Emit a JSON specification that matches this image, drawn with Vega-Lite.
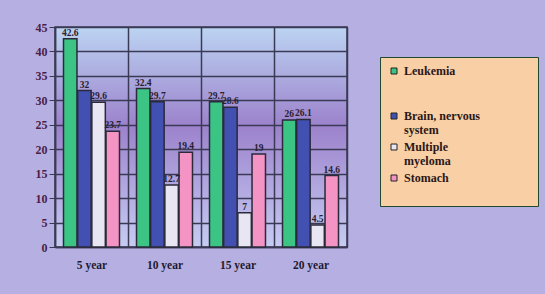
{
  "$schema": "https://vega.github.io/schema/vega-lite/v6.json",
  "width": 292,
  "height": 220,
  "autosize": {"type": "none"},
  "padding": {"left": 55, "top": 27, "right": 198, "bottom": 47},
  "background": "#b6b0e2",
  "config": {
    "view": {
      "stroke": "#3a3a55",
      "strokeWidth": 1.5,
      "fill": {
        "gradient": "linear",
        "x1": 0, "y1": 0, "x2": 0, "y2": 1,
        "stops": [
          {"offset": 0, "color": "#bcd4f2"},
          {"offset": 0.45, "color": "#9c82cc"},
          {"offset": 1, "color": "#c6ccf2"}
        ]
      }
    },
    "font": "Liberation Serif"
  },
  "data": {
    "values": [
      {"period": "5 year", "cancer": "Leukemia", "value": 42.6, "label": "42.6"},
      {"period": "5 year", "cancer": "Brain, nervous system", "value": 32, "label": "32"},
      {"period": "5 year", "cancer": "Multiple myeloma", "value": 29.6, "label": "29.6"},
      {"period": "5 year", "cancer": "Stomach", "value": 23.7, "label": "23.7"},
      {"period": "10 year", "cancer": "Leukemia", "value": 32.4, "label": "32.4"},
      {"period": "10 year", "cancer": "Brain, nervous system", "value": 29.7, "label": "29.7"},
      {"period": "10 year", "cancer": "Multiple myeloma", "value": 12.7, "label": "12.7"},
      {"period": "10 year", "cancer": "Stomach", "value": 19.4, "label": "19.4"},
      {"period": "15 year", "cancer": "Leukemia", "value": 29.7, "label": "29.7"},
      {"period": "15 year", "cancer": "Brain, nervous system", "value": 28.6, "label": "28.6"},
      {"period": "15 year", "cancer": "Multiple myeloma", "value": 7, "label": "7"},
      {"period": "15 year", "cancer": "Stomach", "value": 19, "label": "19"},
      {"period": "20 year", "cancer": "Leukemia", "value": 26, "label": "26"},
      {"period": "20 year", "cancer": "Brain, nervous system", "value": 26.1, "label": "26.1"},
      {"period": "20 year", "cancer": "Multiple myeloma", "value": 4.5, "label": "4.5"},
      {"period": "20 year", "cancer": "Stomach", "value": 14.6, "label": "14.6"}
    ]
  },
  "encoding": {
    "x": {
      "field": "period",
      "type": "nominal",
      "sort": ["5 year", "10 year", "15 year", "20 year"],
      "scale": {"paddingInner": 0, "paddingOuter": 0},
      "axis": {
        "title": null,
        "labelAngle": 0,
        "labelFont": "Liberation Serif",
        "labelFontWeight": "bold",
        "labelFontSize": 11.5,
        "labelColor": "#1e1a30",
        "labelPadding": 12,
        "ticks": false,
        "grid": true,
        "tickBand": "extent",
        "gridColor": "#3a3a55",
        "gridWidth": 1.5,
        "domainColor": "#3a3a55",
        "domainWidth": 1.5
      }
    },
    "xOffset": {
      "field": "cancer",
      "type": "nominal",
      "sort": ["Leukemia", "Brain, nervous system", "Multiple myeloma", "Stomach"],
      "scale": {"paddingInner": 0.05, "paddingOuter": 0.6}
    },
    "y": {
      "field": "value",
      "type": "quantitative",
      "scale": {"domain": [0, 45], "nice": false},
      "axis": {
        "title": null,
        "values": [0, 5, 10, 15, 20, 25, 30, 35, 40, 45],
        "labelOverlap": false,
        "labelFont": "Liberation Serif",
        "labelFontWeight": "bold",
        "labelFontSize": 12,
        "labelColor": "#4a1e48",
        "tickColor": "#3a3a55",
        "tickSize": 6,
        "gridColor": "#3a3a55",
        "gridWidth": 1.5,
        "domainColor": "#3a3a55",
        "domainWidth": 1.5
      }
    }
  },
  "layer": [
    {
      "mark": {"type": "bar", "stroke": "#2a2a3a", "strokeWidth": 1.5},
      "encoding": {
        "color": {
          "field": "cancer",
          "type": "nominal",
          "sort": ["Leukemia", "Brain, nervous system", "Multiple myeloma", "Stomach"],
          "scale": {
            "domain": ["Leukemia", "Brain, nervous system", "Multiple myeloma", "Stomach"],
            "range": ["#3cc485", "#4250b2", "#e8e6f2", "#f494c4"]
          },
          "legend": {
            "title": null,
            "orient": "none",
            "legendX": 325,
            "legendY": 30,
            "fillColor": "#f9cfa6",
            "strokeColor": "#1f4a2e",
            "padding": 8,
            "rowPadding": 5,
            "labelOffset": 4,
            "symbolType": "square",
            "symbolSize": 36,
            "symbolStrokeColor": "#222222",
            "symbolStrokeWidth": 1,
            "labelFont": "Liberation Serif",
            "labelFontWeight": "bold",
            "labelFontSize": 12,
            "labelColor": "#2a1818",
            "labelLimit": 300,
            "labelExpr": "datum.label == 'Leukemia' ? ['Leukemia', '', ''] : datum.label == 'Brain, nervous system' ? ['Brain, nervous', 'system'] : datum.label == 'Multiple myeloma' ? ['Multiple', 'myeloma'] : ['Stomach', '\u2800\u2800\u2800\u2800\u2800\u2800\u2800\u2800\u2800\u2800\u2800\u2800\u2800\u2800']"
          }
        }
      }
    },
    {
      "mark": {"type": "text", "dy": -6, "font": "Liberation Serif", "fontWeight": "bold", "fontSize": 9.5, "color": "#2a2030"},
      "encoding": {
        "text": {"field": "label"}
      }
    }
  ]
}
